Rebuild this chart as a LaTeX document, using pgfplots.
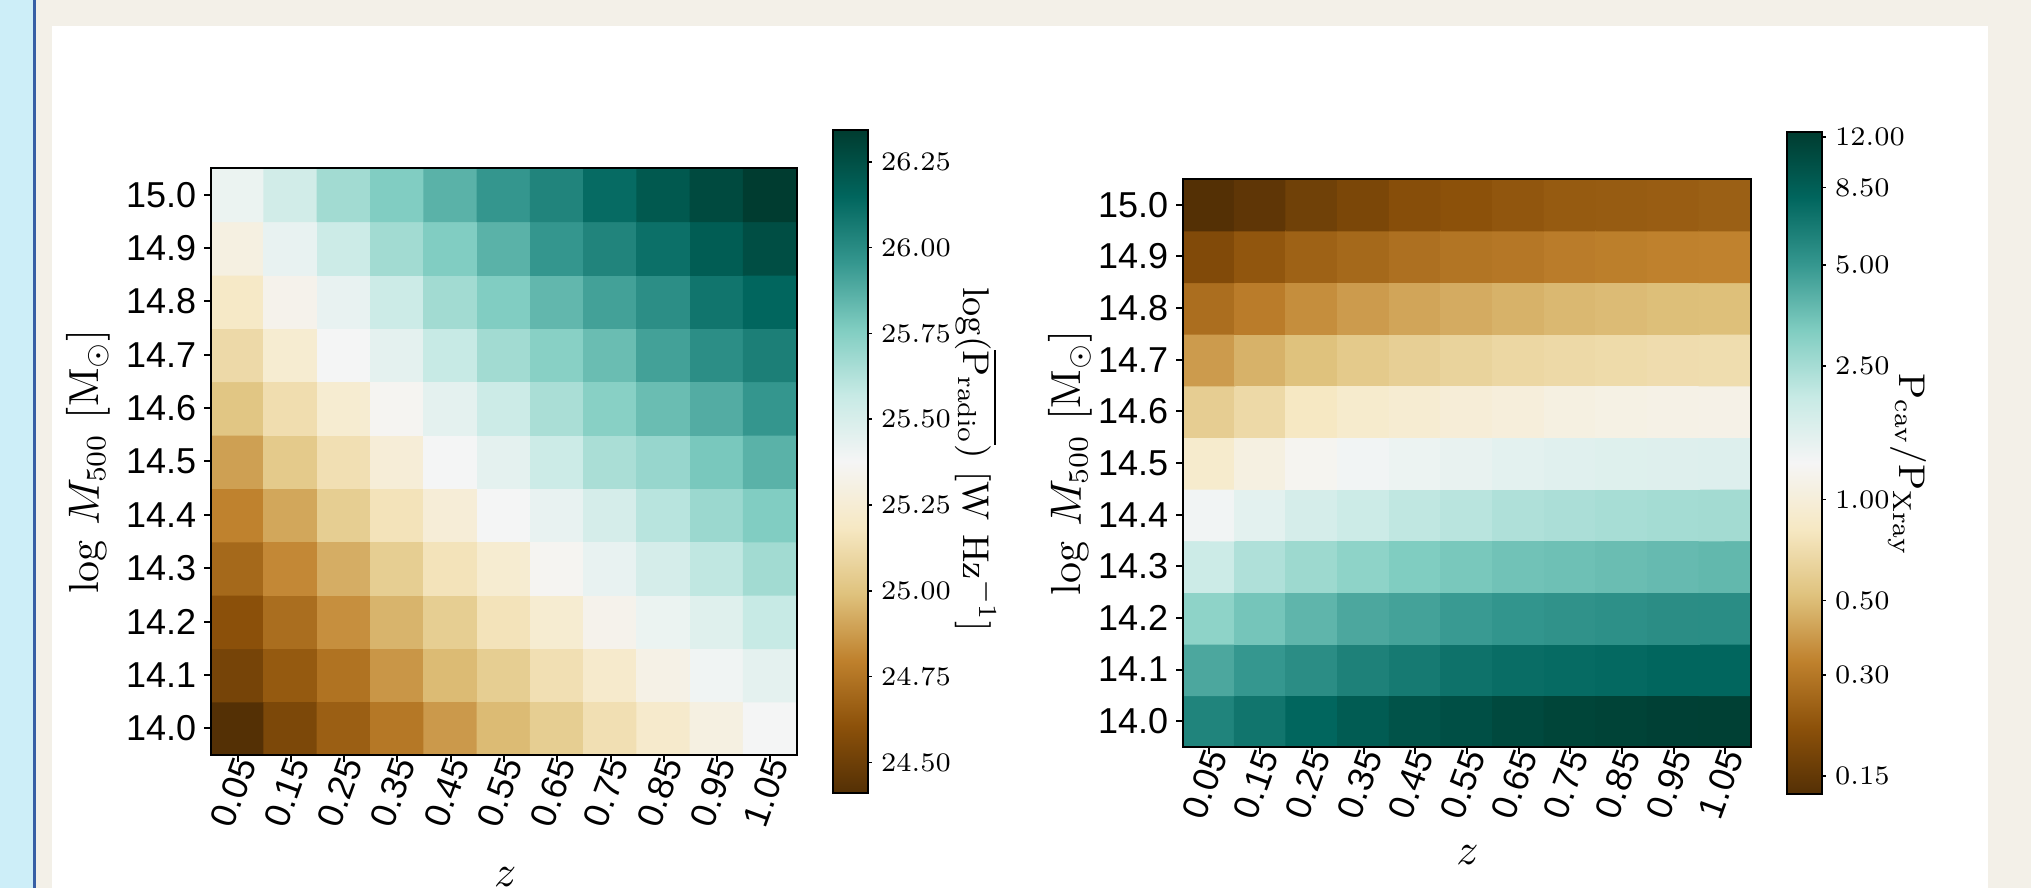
\documentclass[border=0pt]{standalone}
\usepackage{fontspec}
\usepackage{pgfplots}
\usepackage{pgfplotstable}
\pgfplotsset{compat=1.18}
\newfontfamily\hel{Liberation Sans}
\definecolor{bgbeige}{RGB}{243,240,232}
\definecolor{stripblue}{RGB}{205,238,248}
\definecolor{lineblue}{RGB}{55,95,165}
\pgfplotsset{colormap={BrBG}{rgb255=(84,48,5) rgb255=(140,81,10) rgb255=(191,129,45) rgb255=(223,194,125) rgb255=(246,232,195) rgb255=(245,245,245) rgb255=(199,234,229) rgb255=(128,205,193) rgb255=(53,151,143) rgb255=(1,102,94) rgb255=(0,60,48)}}

\pgfplotstableread[row sep=\\]{
x y v\\
0.05 14.0 24.41\\ 0.15 14.0 24.55\\ 0.25 14.0 24.66\\ 0.35 14.0 24.76\\ 0.45 14.0 24.87\\ 0.55 14.0 24.97\\ 0.65 14.0 25.05\\ 0.75 14.0 25.14\\ 0.85 14.0 25.22\\ 0.95 14.0 25.30\\ 1.05 14.0 25.38\\
0.05 14.1 24.53\\ 0.15 14.1 24.64\\ 0.25 14.1 24.74\\ 0.35 14.1 24.86\\ 0.45 14.1 24.97\\ 0.55 14.1 25.05\\ 0.65 14.1 25.14\\ 0.75 14.1 25.22\\ 0.85 14.1 25.32\\ 0.95 14.1 25.40\\ 1.05 14.1 25.45\\
0.05 14.2 24.60\\ 0.15 14.2 24.72\\ 0.25 14.2 24.84\\ 0.35 14.2 24.95\\ 0.45 14.2 25.05\\ 0.55 14.2 25.16\\ 0.65 14.2 25.24\\ 0.75 14.2 25.34\\ 0.85 14.2 25.42\\ 0.95 14.2 25.47\\ 1.05 14.2 25.57\\
0.05 14.3 24.70\\ 0.15 14.3 24.82\\ 0.25 14.3 24.93\\ 0.35 14.3 25.05\\ 0.45 14.3 25.16\\ 0.55 14.3 25.24\\ 0.65 14.3 25.36\\ 0.75 14.3 25.43\\ 0.85 14.3 25.51\\ 0.95 14.3 25.59\\ 1.05 14.3 25.67\\
0.05 14.4 24.80\\ 0.15 14.4 24.91\\ 0.25 14.4 25.05\\ 0.35 14.4 25.16\\ 0.45 14.4 25.26\\ 0.55 14.4 25.38\\ 0.65 14.4 25.43\\ 0.75 14.4 25.51\\ 0.85 14.4 25.61\\ 0.95 14.4 25.69\\ 1.05 14.4 25.76\\
0.05 14.5 24.89\\ 0.15 14.5 25.03\\ 0.25 14.5 25.14\\ 0.35 14.5 25.26\\ 0.45 14.5 25.38\\ 0.55 14.5 25.45\\ 0.65 14.5 25.55\\ 0.75 14.5 25.65\\ 0.85 14.5 25.70\\ 0.95 14.5 25.78\\ 1.05 14.5 25.86\\
0.05 14.6 25.01\\ 0.15 14.6 25.13\\ 0.25 14.6 25.24\\ 0.35 14.6 25.36\\ 0.45 14.6 25.45\\ 0.55 14.6 25.55\\ 0.65 14.6 25.65\\ 0.75 14.6 25.74\\ 0.85 14.6 25.82\\ 0.95 14.6 25.88\\ 1.05 14.6 25.96\\
0.05 14.7 25.11\\ 0.15 14.7 25.24\\ 0.25 14.7 25.38\\ 0.35 14.7 25.45\\ 0.45 14.7 25.57\\ 0.55 14.7 25.67\\ 0.65 14.7 25.74\\ 0.75 14.7 25.82\\ 0.85 14.7 25.92\\ 0.95 14.7 25.99\\ 1.05 14.7 26.05\\
0.05 14.8 25.20\\ 0.15 14.8 25.34\\ 0.25 14.8 25.43\\ 0.35 14.8 25.55\\ 0.45 14.8 25.67\\ 0.55 14.8 25.76\\ 0.65 14.8 25.84\\ 0.75 14.8 25.92\\ 0.85 14.8 25.99\\ 0.95 14.8 26.09\\ 1.05 14.8 26.15\\
0.05 14.9 25.30\\ 0.15 14.9 25.43\\ 0.25 14.9 25.55\\ 0.35 14.9 25.67\\ 0.45 14.9 25.76\\ 0.55 14.9 25.86\\ 0.65 14.9 25.96\\ 0.75 14.9 26.03\\ 0.85 14.9 26.11\\ 0.95 14.9 26.19\\ 1.05 14.9 26.26\\
0.05 15.0 25.42\\ 0.15 15.0 25.53\\ 0.25 15.0 25.67\\ 0.35 15.0 25.76\\ 0.45 15.0 25.86\\ 0.55 15.0 25.96\\ 0.65 15.0 26.03\\ 0.75 15.0 26.13\\ 0.85 15.0 26.21\\ 0.95 15.0 26.28\\ 1.05 15.0 26.34\\
}\leftdata

\pgfplotstableread[row sep=\\]{
x y v\\
0.05 14.0 6.02\\ 0.15 14.0 6.90\\ 0.25 14.0 7.91\\ 0.35 14.0 8.85\\ 0.45 14.0 9.70\\ 0.55 14.0 10.15\\ 0.65 14.0 10.86\\ 0.75 14.0 11.37\\ 0.85 14.0 11.62\\ 0.95 14.0 11.89\\ 1.05 14.0 11.95\\
0.05 14.1 4.38\\ 0.15 14.1 5.02\\ 0.25 14.1 5.50\\ 0.35 14.1 6.16\\ 0.45 14.1 6.59\\ 0.55 14.1 7.06\\ 0.65 14.1 7.39\\ 0.75 14.1 7.56\\ 0.85 14.1 7.73\\ 0.95 14.1 7.91\\ 1.05 14.1 7.95\\
0.05 14.2 2.91\\ 0.15 14.2 3.41\\ 0.25 14.2 3.91\\ 0.35 14.2 4.38\\ 0.45 14.2 4.58\\ 0.55 14.2 4.91\\ 0.65 14.2 5.14\\ 0.75 14.2 5.25\\ 0.85 14.2 5.37\\ 0.95 14.2 5.50\\ 1.05 14.2 5.52\\
0.05 14.3 1.93\\ 0.15 14.3 2.37\\ 0.25 14.3 2.66\\ 0.35 14.3 2.91\\ 0.45 14.3 3.19\\ 0.55 14.3 3.33\\ 0.65 14.3 3.49\\ 0.75 14.3 3.57\\ 0.85 14.3 3.65\\ 0.95 14.3 3.74\\ 1.05 14.3 3.82\\
0.05 14.4 1.34\\ 0.15 14.4 1.54\\ 0.25 14.4 1.77\\ 0.35 14.4 1.93\\ 0.45 14.4 2.12\\ 0.55 14.4 2.22\\ 0.65 14.4 2.37\\ 0.75 14.4 2.43\\ 0.85 14.4 2.48\\ 0.95 14.4 2.54\\ 1.05 14.4 2.56\\
0.05 14.5 0.894\\ 0.15 14.5 1.07\\ 0.25 14.5 1.23\\ 0.35 14.5 1.34\\ 0.45 14.5 1.41\\ 0.55 14.5 1.47\\ 0.65 14.5 1.54\\ 0.75 14.5 1.58\\ 0.85 14.5 1.61\\ 0.95 14.5 1.62\\ 1.05 14.5 1.63\\
0.05 14.6 0.594\\ 0.15 14.6 0.681\\ 0.25 14.6 0.817\\ 0.35 14.6 0.894\\ 0.45 14.6 0.935\\ 0.55 14.6 0.979\\ 0.65 14.6 1.02\\ 0.75 14.6 1.07\\ 0.85 14.6 1.10\\ 0.95 14.6 1.12\\ 1.05 14.6 1.13\\
0.05 14.7 0.395\\ 0.15 14.7 0.463\\ 0.25 14.7 0.519\\ 0.35 14.7 0.568\\ 0.45 14.7 0.608\\ 0.55 14.7 0.636\\ 0.65 14.7 0.665\\ 0.75 14.7 0.681\\ 0.85 14.7 0.696\\ 0.95 14.7 0.712\\ 1.05 14.7 0.718\\
0.05 14.8 0.275\\ 0.15 14.8 0.315\\ 0.25 14.8 0.360\\ 0.35 14.8 0.395\\ 0.45 14.8 0.423\\ 0.55 14.8 0.442\\ 0.65 14.8 0.463\\ 0.75 14.8 0.484\\ 0.85 14.8 0.495\\ 0.95 14.8 0.507\\ 1.05 14.8 0.510\\
0.05 14.9 0.191\\ 0.15 14.9 0.219\\ 0.25 14.9 0.245\\ 0.35 14.9 0.262\\ 0.45 14.9 0.281\\ 0.55 14.9 0.294\\ 0.65 14.9 0.301\\ 0.75 14.9 0.315\\ 0.85 14.9 0.322\\ 0.95 14.9 0.329\\ 1.05 14.9 0.332\\
0.05 15.0 0.133\\ 0.15 15.0 0.145\\ 0.25 15.0 0.167\\ 0.35 15.0 0.182\\ 0.45 15.0 0.200\\ 0.55 15.0 0.209\\ 0.65 15.0 0.219\\ 0.75 15.0 0.229\\ 0.85 15.0 0.231\\ 0.95 15.0 0.234\\ 1.05 15.0 0.240\\
}\rightdata

\pgfplotsset{
  heat/.style={
    scale only axis, anchor=south west,
    colormap name=BrBG,
    axis on top,
    xmin=0, xmax=1.1, ymin=13.95, ymax=15.05,
    xtick={0.05,0.15,0.25,0.35,0.45,0.55,0.65,0.75,0.85,0.95,1.05},
    xticklabels={0.05,0.15,0.25,0.35,0.45,0.55,0.65,0.75,0.85,0.95,1.05},
    ytick={14.0,14.1,14.2,14.3,14.4,14.5,14.6,14.7,14.8,14.9,15.0},
    yticklabels={14.0,14.1,14.2,14.3,14.4,14.5,14.6,14.7,14.8,14.9,15.0},
    xtick pos=left, ytick pos=left, tick align=outside,
    major tick length=1.7pt,
    tick style={black, line width=0.5pt},
    axis line style={black, line width=0.5pt},
    tick label style={font=\fontsize{9}{10}\hel},
    xticklabel style={rotate=70, anchor=east, inner sep=0pt, xshift=1.35pt, yshift=-1.6pt},
    yticklabel style={inner sep=0pt, xshift=-1.8pt},
    label style={font=\fontsize{10.5}{12}\selectfont},
    xlabel={$z$},
    ylabel={$\log\,M_{500}\ [\mathrm{M}_\odot]$},
  },
  cbar/.style={
    scale only axis, width=8.75pt, height=165.5pt,
    at={(parent axis.east)}, anchor=west, xshift=0.35pt,
    ytick pos=right, yticklabel pos=right, tick align=outside,
    major tick length=1.1pt,
    tick style={black, line width=0.4pt},
    axis line style={black, line width=0.5pt},
    yticklabel style={font=\fontsize{6.7}{8}\selectfont, inner sep=0pt, xshift=2.1pt},
  },
}

\begin{document}
\begin{tikzpicture}
\fill[bgbeige] (0,0) rectangle (507.75pt,222pt);
\fill[stripblue] (0,0) rectangle (8.3pt,222pt);
\fill[lineblue] (8.3pt,0) rectangle (8.9pt,222pt);
\fill[white] (13pt,0) rectangle (497pt,215.5pt);

\begin{axis}[heat,
  at={(52.75pt,33.25pt)}, width=146.5pt, height=146.75pt,
  point meta min=24.412, point meta max=26.341,
  xlabel style={at={(axis description cs:0.502,-0.208)}, anchor=center},
  ylabel style={at={(axis description cs:-0.21,0.5)}, anchor=center},
  colorbar,
  colorbar style={cbar,
    ytick={24.5,24.75,25,25.25,25.5,25.75,26,26.25},
    yticklabels={24.50,24.75,25.00,25.25,25.50,25.75,26.00,26.25},
    ylabel={$\log(\overline{\mathrm{P}_{\mathrm{radio}}})\ [\mathrm{W\ Hz^{-1}}]$},
    every axis y label/.style={at={(axis description cs:4.1,0.503)}, rotate=-90, anchor=center, font=\fontsize{9.3}{11}\selectfont},
  },
]
\addplot[matrix plot*, mesh/cols=11, point meta=explicit] table[x=x, y=y, meta=v] {\leftdata};
\end{axis}

\begin{axis}[heat,
  at={(295.75pt,35.25pt)}, width=142pt, height=142pt,
  point meta min=-0.877, point meta max=1.095,
  xlabel style={at={(axis description cs:0.501,-0.190)}, anchor=center},
  ylabel style={at={(axis description cs:-0.199,0.5)}, anchor=center},
  colorbar,
  colorbar style={cbar,
    ytick={-0.8239,-0.5229,-0.3010,0,0.3979,0.6990,0.9294,1.0792},
    yticklabels={0.15,0.30,0.50,1.00,2.50,5.00,8.50,12.00},
    ylabel={$\mathrm{P}_{\mathrm{cav}}/\mathrm{P}_{\mathrm{Xray}}$},
    every axis y label/.style={at={(axis description cs:3.45,0.497)}, rotate=-90, anchor=center, font=\fontsize{9.3}{11}\selectfont},
  },
]
\addplot[matrix plot*, mesh/cols=11, point meta={log10(\thisrow{v})}] table[x=x, y=y] {\rightdata};
\end{axis}

\pgfresetboundingbox
\useasboundingbox (0,0) rectangle (507.75pt,222pt);
\end{tikzpicture}
\end{document}
